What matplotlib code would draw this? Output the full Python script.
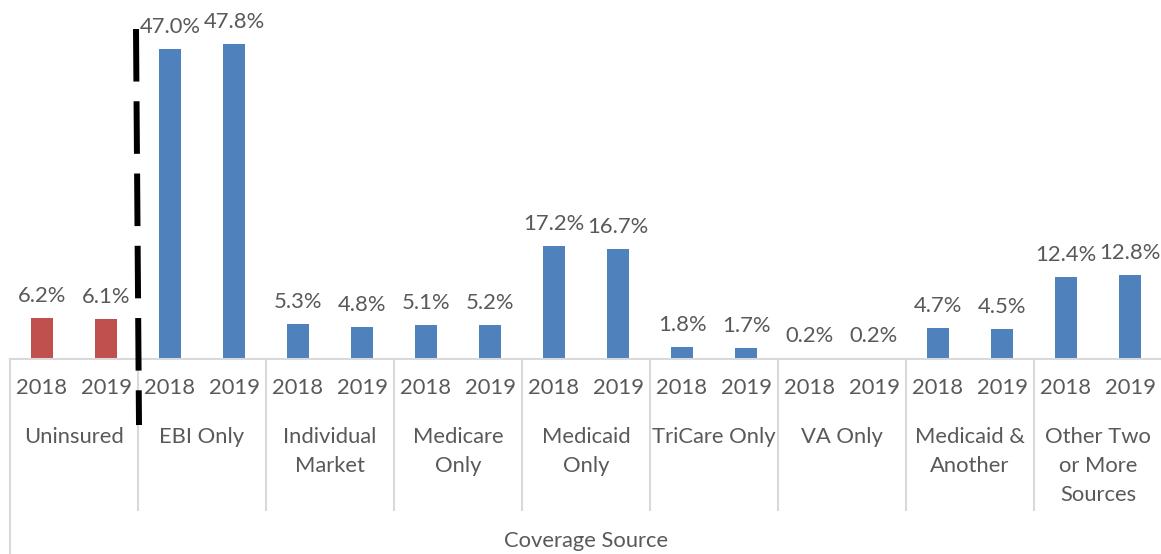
import matplotlib
matplotlib.use('Agg')
import matplotlib.pyplot as plt
from matplotlib.lines import Line2D

plt.rcParams['font.family'] = ['Lato', 'DejaVu Sans']

years = ['2018', '2019']
categories = ['Uninsured', 'EBI Only', 'Individual\nMarket', 'Medicare\nOnly',
              'Medicaid\nOnly', 'TriCare Only', 'VA Only', 'Medicaid &\nAnother',
              'Other Two\nor More\nSources']
v2018 = [6.2, 47.0, 5.3, 5.1, 17.2, 1.8, 0.2, 4.7, 12.4]
v2019 = [6.1, 47.8, 4.8, 5.2, 16.7, 1.7, 0.2, 4.5, 12.8]

W, H = 1161, 554
red = '#C0504D'
blue = '#4F81BD'
txt = '#595959'
grid = '#D9D9D9'
fs = 15.8

fig = plt.figure(figsize=(W / 100, H / 100), dpi=100)
base = 359
ax = fig.add_axes([10 / W, (H - base) / H, 1152 / W, base / H])
ax.set_xlim(0, 2 * len(categories))
ax.set_ylim(0, base / 6.59)
ax.axis('off')

def ypx(y):
    # pixel row -> axes fraction (below the baseline is negative)
    return (base - y) / base

xt = ax.get_xaxis_transform()
for i, cat in enumerate(categories):
    col = red if i == 0 else blue
    for j, vals in enumerate([v2018, v2019]):
        x = 2 * i + j + 0.5
        ax.bar(x, vals[i], width=0.33, color=col)
        ax.annotate(f'{vals[i]:.1f}%', (x, vals[i]), xytext=(0, 16),
                    textcoords='offset pixels', ha='center', va='baseline',
                    fontsize=fs, color=txt)
        ax.text(x, ypx(388), years[j], transform=xt, ha='center', va='center',
                fontsize=fs, color=txt)
    for k, line in enumerate(cat.split('\n')):
        ax.text(2 * i + 1, ypx(437 + 29 * k), line, transform=xt, ha='center',
                va='center', fontsize=fs, color=txt)
    bottom = 554 if i == 0 else 510
    ax.plot([2 * i, 2 * i], [0, ypx(bottom)], transform=xt, color=grid,
            lw=1.5, clip_on=False)

ax.plot([0, 2 * len(categories)], [0, 0], transform=xt, color=grid, lw=1.5,
        clip_on=False)
ax.text(len(categories), ypx(541), 'Coverage Source', transform=xt,
        ha='center', va='center', fontsize=fs, color=txt)

# dashed separator between uninsured and insured groups
fig.add_artist(Line2D([136 / W, 139 / W], [1 - 29 / H, 1 - 425 / H],
                      transform=fig.transFigure, color='black', lw=4.3,
                      linestyle=(0, (8.8, 3.3)), solid_capstyle='butt',
                      dash_capstyle='butt'))

fig.savefig('out.png', dpi=100)
